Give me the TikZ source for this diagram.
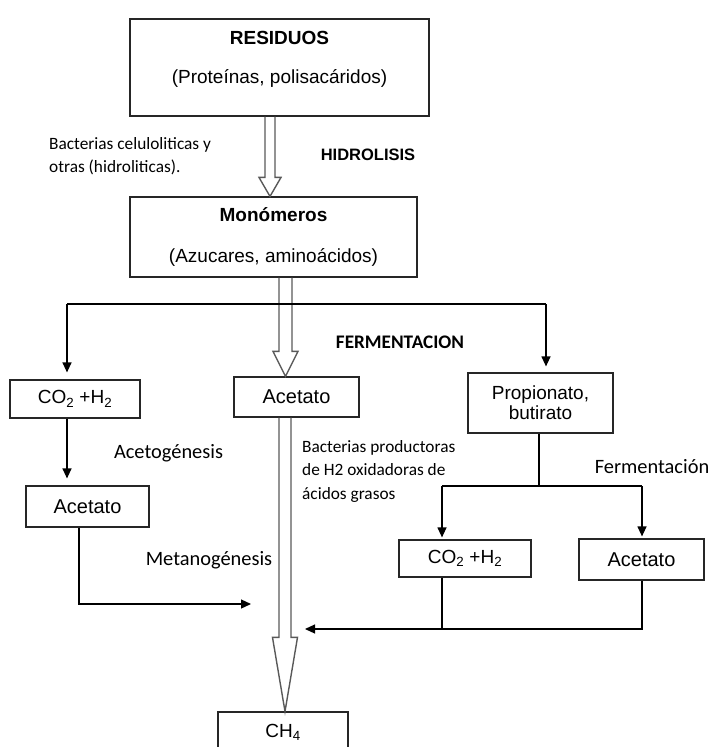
\documentclass[tikz,border=0pt]{standalone}
\usepackage{fontspec}
\setmainfont{Liberation Sans}
\newfontfamily\calibri{Carlito}
\usetikzlibrary{arrows.meta,calc}

\tikzset{
  box/.style={draw=black!85, line width=1.2pt, inner sep=0pt, align=center,
    font=\fontsize{19}{20}\selectfont},
  boxtext/.style={inner sep=0pt, font=\fontsize{19}{23}\selectfont},
  boxtitle/.style={inner sep=0pt, font=\bfseries\fontsize{19}{23}\selectfont},
  note/.style={inner sep=0pt, align=left, font=\calibri\fontsize{17.3}{23.5}\selectfont},
  stage/.style={inner sep=0pt, font=\calibri\fontsize{20.4}{24}\selectfont},
  link/.style={line width=1.2pt},
  arr/.style={link, -{Triangle[length=10pt,width=9pt]}},
  hollow/.style={draw=black!65, line width=1.4pt}
}

\begin{document}
\begin{tikzpicture}[x=1pt,y=-1pt]
\clip (0,0) rectangle (714,747);

% cajas
\node[box, minimum width=299, minimum height=97] (res) at (279.5,67.5) {};
\node[box, minimum width=287, minimum height=80] (mon) at (273.5,237) {};
\node[box, minimum width=130, minimum height=38] (co2a) at (75,399) {CO\textsubscript{2} +H\textsubscript{2}};
\node[box, minimum width=125, minimum height=40, font=\fontsize{20}{24}\selectfont] (aceb) at (296.5,397) {Acetato};
\node[box, minimum width=145, minimum height=60] (prop) at (540.5,403) {Propionato,\\butirato};
\node[box, minimum width=123, minimum height=41, font=\fontsize{20}{24}\selectfont] (acea) at (87.5,506.5) {Acetato};
\node[box, minimum width=132, minimum height=37] (co2b) at (465,558.5) {CO\textsubscript{2} +H\textsubscript{2}};
\node[box, minimum width=125, minimum height=41, font=\fontsize{20}{24}\selectfont] (acec) at (641.5,559.5) {Acetato};
\node[box, minimum width=130, minimum height=40] (ch4) at (283,732) {CH\textsubscript{4}};

\node[boxtitle] (restitle) at (279.5,38) {RESIDUOS};
\node[boxtext] (resnote) at (279.5,78) {(Proteínas, polisacáridos)};
\node[boxtitle] (montitle) at (273.5,215) {Monómeros};
\node[boxtext] (monnote) at (273.5,257) {(Azucares, aminoácidos)};

% flechas huecas
\foreach \xc/\sw/\hw/\hl/\from/\to in {270/5/11/19/res/mon, 285.5/6.5/12.5/25/mon/aceb, 285/6/12.5/74/aceb/ch4}
  \draw[hollow] let \p1=(\from.south), \p2=(\to.north) in
    ({\xc pt-\sw pt},{\y1}) -- ({\xc pt-\sw pt},{\y2+\hl pt}) -- ({\xc pt-\hw pt},{\y2+\hl pt})
    -- ({\xc pt},{\y2}) -- ({\xc pt+\hw pt},{\y2+\hl pt}) -- ({\xc pt+\sw pt},{\y2+\hl pt})
    -- ({\xc pt+\sw pt},{\y1});

% fermentacion
\coordinate (fl) at (67,304);
\coordinate (fr) at (546,304);
\draw[link] (fl) -- (fr);
\draw[arr, shorten >=7pt] (fl) -- (fl |- co2a.north);
\draw[arr, shorten >=6pt] (fr) -- (fr |- prop.north);
\draw[arr, shorten >=7pt] (co2a.south -| fl) -- (acea.north -| fl);

\coordinate (ml) at (79,604);
\coordinate (mr) at (251,604);
\draw[arr] (acea.south -| ml) -- (ml) -- (mr);

\coordinate (pm) at (539,486);
\coordinate (pl) at (442,486);
\coordinate (pr) at (642,486);
\draw[link] (prop.south -| pm) -- (pm);
\draw[link] (pl) -- (pr);
\draw[arr, shorten >=2pt] (pl) -- (pl |- co2b.north);
\draw[arr, shorten >=2pt] (pr) -- (pr |- acec.north);

\coordinate (bl) at (305,629);
\draw[link] (co2b.south -| pl) -- (pl |- bl);
\draw[arr] (acec.south -| pr) -- (pr |- bl) -- (bl);

% textos
\node[note, anchor=west] (hydnote) at (49,156) {Bacterias celuloliticas y\\otras (hidroliticas).};
\node[inner sep=0pt, font=\bfseries\fontsize{16.5}{20}\selectfont] (hidro) at (368,155) {HIDROLISIS};
\node[inner sep=0pt, font=\calibri\bfseries\fontsize{19.2}{20}\selectfont] (ferm) at (400,342) {FERMENTACION};
\node[stage] (acetog) at (168.5,453) {Acetogénesis};
\node[stage] (metano) at (209,560) {Metanogénesis};
\node[note, anchor=west] (oxnote) at (302,471) {Bacterias productoras\\de H2 oxidadoras de\\ácidos grasos};
\node[stage] (fermr) at (652,467) {Fermentación};
\end{tikzpicture}
\end{document}
